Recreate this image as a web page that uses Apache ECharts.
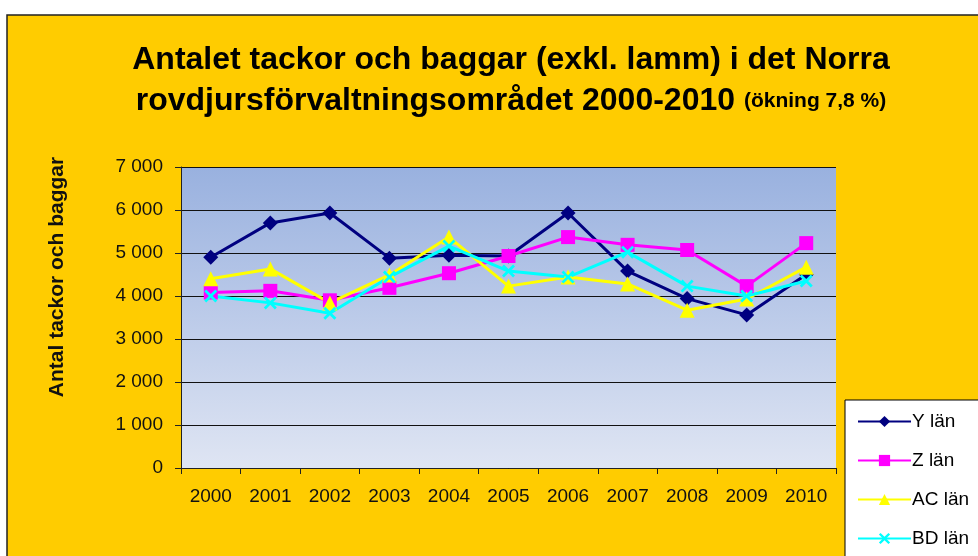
<!DOCTYPE html>
<html>
<head>
<meta charset="utf-8">
<script src="https://cdn.jsdelivr.net/npm/echarts@6/dist/echarts.min.js"></script>
<style>
  html, body { margin: 0; padding: 0; background: #fff; }
  #chart { width: 978px; height: 556px; }
</style>
</head>
<body>
<div id="chart"></div>
<script>
const years = ['2000', '2001', '2002', '2003', '2004', '2005', '2006', '2007', '2008', '2009', '2010']
const yLan = [4900, 5700, 5930, 4880, 4950, 4930, 5930, 4580, 3940, 3560, 4500]
const zLan = [4080, 4120, 3900, 4190, 4530, 4930, 5370, 5190, 5070, 4230, 5230]
const acLan = [4400, 4630, 3840, 4490, 5370, 4230, 4440, 4280, 3670, 3930, 4670]
const bdLan = [4000, 3840, 3600, 4440, 5160, 4580, 4440, 5020, 4230, 4000, 4350]
const yTicks = [0, 1000, 2000, 3000, 4000, 5000, 6000, 7000]

const crossSymbol = 'path://M0,1.5 L1.5,0 L5,3.5 L8.5,0 L10,1.5 L6.5,5 L10,8.5 L8.5,10 L5,6.5 L1.5,10 L0,8.5 L3.5,5 Z'
const font = 'Liberation Sans, Arial, sans-serif'

const chart = echarts.init(document.getElementById('chart'))

function lineSeries(name, data, color, symbol, size) {
  return {
    name, type: 'line', data, symbol, symbolSize: size,
    lineStyle: { width: 3, color },
    itemStyle: { color },
    z: 3,
  }
}

chart.setOption({
  animation: false,
  graphic: [
    {
      type: 'rect', z: -10, silent: true,
      shape: { x: 7, y: 15, width: 980, height: 560 },
      style: { fill: '#ffcc00', stroke: '#222', lineWidth: 1.5 },
    },
    // legend frame, runs off the right and bottom edge like the source
    {
      type: 'rect', z: -5, silent: true,
      shape: { x: 845, y: 400, width: 200, height: 200 },
      style: { fill: '#fff', stroke: '#000', lineWidth: 1 },
    },
    // y axis title sits above the plot middle in the source
    {
      type: 'text', x: 57, y: 277, rotation: Math.PI / 2, silent: true,
      style: {
        text: 'Antal tackor och baggar', align: 'center', verticalAlign: 'middle',
        font: 'bold 21px ' + font, fill: '#111',
      },
    },
  ],
  title: {
    left: 506, top: 35, textAlign: 'center',
    text: 'Antalet tackor och baggar (exkl. lamm) i det Norra\nrovdjursförvaltningsområdet 2000-2010 {s|(ökning 7,8 %)}',
    textStyle: {
      fontFamily: font, fontSize: 32, fontWeight: 'bold', color: '#000', lineHeight: 41,
      rich: { s: { fontFamily: font, fontSize: 21, fontWeight: 'bold', color: '#000' } },
    },
  },
  legend: {
    orient: 'vertical', left: 845, top: 400, height: 156,
    padding: [12, 20, 0, 12],
    itemWidth: 53, itemHeight: 14, itemGap: 20,
    textStyle: { fontFamily: font, fontSize: 19, color: '#000', padding: [0, 0, 0, -4] },
    data: ['Y län', 'Z län', 'AC län', 'BD län'],
  },
  grid: {
    left: 181, right: 142, top: 167, bottom: 88,
    show: true, borderWidth: 0,
    backgroundColor: new echarts.graphic.LinearGradient(0, 0, 0, 1, [
      { offset: 0, color: '#99b1df' },
      { offset: 1, color: '#dfe5f3' },
    ]),
  },
  xAxis: {
    type: 'category', data: years,
    axisLine: { lineStyle: { color: '#222', width: 1 } },
    axisTick: { show: true, length: 6, lineStyle: { color: '#222' } },
    axisLabel: { fontFamily: font, fontSize: 19, color: '#111', margin: 19 },
  },
  yAxis: {
    type: 'value', min: 0, max: 7000, interval: 1000,
    axisLine: { show: true, lineStyle: { color: '#222', width: 1 } },
    axisTick: { show: true, length: 6, lineStyle: { color: '#222' } },
    axisLabel: {
      fontFamily: font, fontSize: 19, color: '#111', margin: 18,
      formatter: (v) => yTicks.includes(v) ? String(v).replace(/\B(?=(\d{3})+(?!\d))/g, ' ') : '',
    },
    splitLine: { lineStyle: { color: '#111', width: 1.2 } },
  },
  series: [
    lineSeries('Y län', yLan, '#000080', 'diamond', 15),
    lineSeries('Z län', zLan, '#ff00ff', 'rect', 14),
    lineSeries('AC län', acLan, '#ffff00', 'triangle', 15),
    lineSeries('BD län', bdLan, '#00ffff', crossSymbol, 13),
  ],
})
</script>
</body>
</html>
